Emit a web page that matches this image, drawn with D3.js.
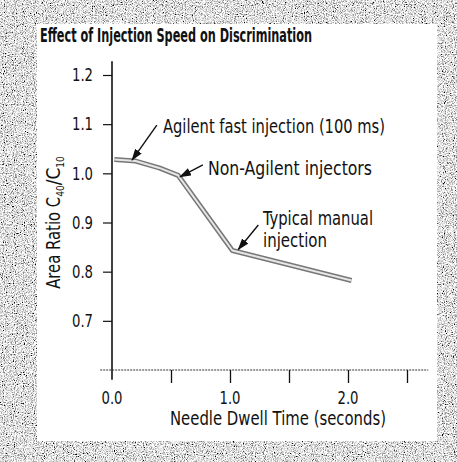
<!DOCTYPE html>
<html>
<head>
<meta charset="utf-8">
<script src="https://cdn.jsdelivr.net/npm/d3@7"></script>
<style>
  html, body { margin: 0; padding: 0; background: #fff; }
  svg { display: block; }
  text { font-family: "Liberation Sans Narrow", "DejaVu Sans Condensed", "Liberation Sans", sans-serif; fill: #111; }
</style>
</head>
<body>
<svg id="chart" width="457" height="462"></svg>
<script>
// Needle dwell time (s) vs. C40/C10 area ratio
const dwellTime = [0.02, 0.2, 0.4, 0.56, 1.02, 2.03];
const areaRatio = [1.028, 1.025, 1.011, 0.996, 0.843, 0.782];

const xTickValues = [0.5, 1.0, 1.5, 2.0, 2.5];
const xTickLabels = ["0.0", "1.0", "2.0"];
const yTickLabels = ["0.7", "0.8", "0.9", "1.0", "1.1", "1.2"];

const titleText = "Effect of Injection Speed on Discrimination";
const xTitle = "Needle Dwell Time (seconds)";

// Call-outs: text lines, arrow tail and arrow head in data units
const noteLines = [["Agilent fast injection (100 ms)"], ["Non-Agilent injectors"], ["Typical manual", "injection"]];
const noteTail = [[0.38, 1.098], [0.77, 1.017], [1.24, 0.895]];
const noteHead = [[0.17, 1.027], [0.576, 0.993], [1.07, 0.845]];

const W = 457, H = 462;
const svg = d3.select("#chart");

// condensed lettering: squeeze each string to its set width
const fit = (sel, w) => sel.attr("textLength", w).attr("lengthAdjust", "spacingAndGlyphs");

// ---- grainy frame ----
const defs = svg.append("defs");
const grain = defs.append("filter").attr("id", "grain")
  .attr("x", 0).attr("y", 0).attr("width", W).attr("height", H)
  .attr("filterUnits", "userSpaceOnUse");
grain.append("feTurbulence").attr("type", "fractalNoise")
  .attr("baseFrequency", "0.9").attr("numOctaves", 2).attr("seed", 7).attr("result", "n");
grain.append("feColorMatrix").attr("type", "saturate").attr("values", 0).attr("result", "g");
const ct = grain.append("feComponentTransfer");
["feFuncR", "feFuncG", "feFuncB"].forEach(f =>
  ct.append(f).attr("type", "linear").attr("slope", 3.6).attr("intercept", -1.05));
ct.append("feFuncA").attr("type", "linear").attr("slope", 0).attr("intercept", 1);

svg.append("rect").attr("width", W).attr("height", H).attr("fill", "#aaa")
  .attr("filter", "url(#grain)");
svg.append("rect").attr("x", 37).attr("y", 24).attr("width", 400).attr("height", 417)
  .attr("fill", "#fff");

// ---- title ----
fit(svg.append("text").attr("x", 40).attr("y", 42)
  .attr("font-weight", "bold").attr("font-size", 19)
  .text(titleText), 272);

// ---- scales ----
const x = d3.scaleLinear().domain([0, 1]).range([112, 230]);
const y = d3.scaleLinear().domain([0.6, 1.2]).range([370, 75]);

// axis lines
svg.append("line")
  .attr("x1", x(0)).attr("x2", x(0))
  .attr("y1", y(1.228)).attr("y2", y(0.58))
  .attr("stroke", "#111").attr("stroke-width", 1.6);
svg.append("line")
  .attr("x1", x(-0.1)).attr("x2", x(2.68))
  .attr("y1", y(0.6)).attr("y2", y(0.6))
  .attr("stroke", "#333").attr("stroke-width", 1).attr("stroke-dasharray", "2,1");

// y axis ticks + labels
const yAxis = d3.axisLeft(y)
  .tickValues(yTickLabels.map(Number))
  .tickFormat((d, i) => yTickLabels[i])
  .tickSize(9).tickPadding(10);
const gy = svg.append("g").attr("transform", `translate(${x(0)},0)`).call(yAxis);
gy.select(".domain").remove();
gy.selectAll(".tick line").attr("stroke", "#111").attr("stroke-width", 1.2);
fit(gy.selectAll(".tick text").attr("font-size", 18).attr("font-family", null).attr("fill", "#111"), 21);

// x axis ticks (downward) and labels
const xAxis = d3.axisBottom(x).tickValues(xTickValues).tickFormat("").tickSize(13);
const gx = svg.append("g").attr("transform", `translate(0,${y(0.6)})`).call(xAxis);
gx.select(".domain").remove();
gx.selectAll(".tick line").attr("stroke", "#111").attr("stroke-width", 1.3);

fit(svg.append("g").selectAll("text").data(xTickLabels).join("text")
  .attr("x", d => x(+d)).attr("y", 404)
  .attr("text-anchor", "middle").attr("font-size", 18)
  .text(d => d), 21);

fit(svg.append("text").attr("x", 278).attr("y", 425)
  .attr("text-anchor", "middle").attr("font-size", 19)
  .text(xTitle), 216);

// y title with subscripts
const yt = svg.append("text")
  .attr("transform", `translate(60,${y(0.9)}) rotate(-90)`)
  .attr("text-anchor", "middle").attr("font-size", 19);
fit(yt.append("tspan").text("Area Ratio C"), 92);
yt.append("tspan").attr("font-size", 10).attr("dy", 4).text("40");
yt.append("tspan").attr("dy", -4).text("/C");
yt.append("tspan").attr("font-size", 10).attr("dy", 4).text("10");

// ---- data line (double-ruled stroke) ----
const pts = dwellTime.map((t, i) => [t, areaRatio[i]]);
const line = d3.line().x(d => x(d[0])).y(d => y(d[1]));
svg.append("path").datum(pts).attr("d", line)
  .attr("fill", "none").attr("stroke", "#777").attr("stroke-width", 5)
  .attr("stroke-linejoin", "round");
svg.append("path").datum(pts).attr("d", line)
  .attr("fill", "none").attr("stroke", "#e6e6e6").attr("stroke-width", 2)
  .attr("stroke-linejoin", "round");

// ---- call-outs ----
defs.append("marker").attr("id", "head")
  .attr("viewBox", "0 0 12 8").attr("refX", 11).attr("refY", 4)
  .attr("markerWidth", 12).attr("markerHeight", 8).attr("markerUnits", "userSpaceOnUse")
  .attr("orient", "auto")
  .append("path").attr("d", "M0,0 L12,4 L0,8 Z").attr("fill", "#111");

noteTail.forEach((t, i) => {
  svg.append("line")
    .attr("x1", x(t[0])).attr("y1", y(t[1]))
    .attr("x2", x(noteHead[i][0])).attr("y2", y(noteHead[i][1]))
    .attr("stroke", "#111").attr("stroke-width", 1.4)
    .attr("marker-end", "url(#head)");
});

const notePos = [[163, 133], [208, 175], [263, 225]];
const noteWidths = [[222], [164], [110, 64]];
noteLines.forEach((lines, i) => {
  const t = svg.append("text").attr("font-size", 20)
    .attr("x", notePos[i][0]).attr("y", notePos[i][1]);
  lines.forEach((s, j) => fit(t.append("tspan")
    .attr("x", notePos[i][0]).attr("dy", j ? 22 : 0).text(s), noteWidths[i][j]));
});
</script>
</body>
</html>
